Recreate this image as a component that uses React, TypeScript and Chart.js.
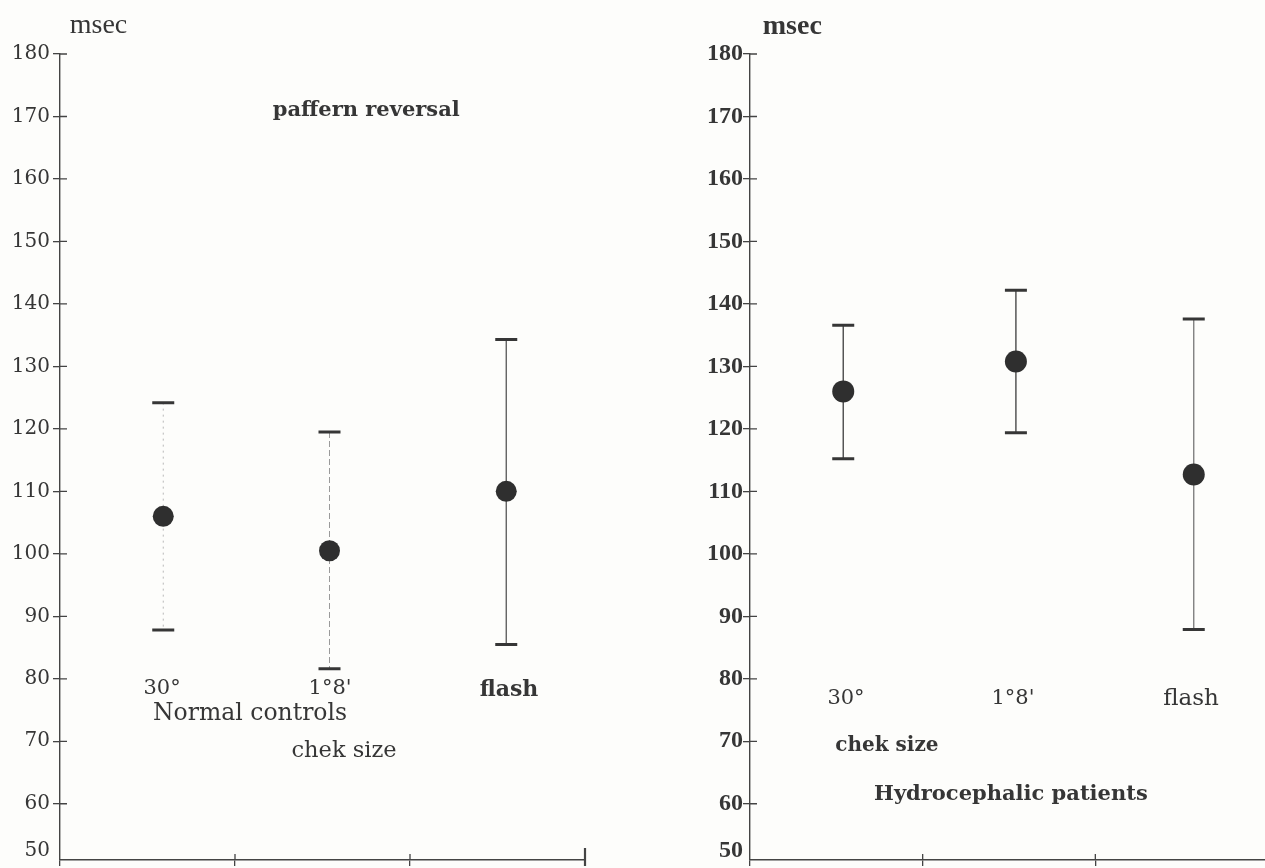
import React, { useEffect, useRef } from "react";
import { Chart, registerables } from "chart.js";

Chart.register(...registerables);

// ---------- data ----------
const categories = ["30°", "1°8'", "flash"];
const yTickLabels = [50, 60, 70, 80, 90, 100, 110, 120, 130, 140, 150, 160, 170, 180];
const yAxisStart = 51; // drawn axis starts a little below the 60 tick spacing; "50" sits on the corner
const yMax = 180;

// Normal controls (pattern reversal), msec
const controlsX = [0.59, 1.54, 2.55];
const controlsMean = [106, 100.5, 110];
const controlsUpper = [124.2, 119.5, 134.3];
const controlsLower = [87.8, 81.6, 85.5];

// Hydrocephalic patients, msec
const patientsX = [0.54, 1.54, 2.57];
const patientsMean = [126, 130.8, 112.7];
const patientsUpper = [136.6, 142.2, 137.6];
const patientsLower = [115.2, 119.4, 87.9];

const INK = "#363636";
const SERIF = '"DejaVu Serif", serif';
const TIMES = '"Liberation Serif", serif';

type Note = { text: string; x: number; y: number; font: string };
type BarStyle = { color: string; width: number; dash: number[] };

type Panel = {
  xs: number[];
  mean: number[];
  upper: number[];
  lower: number[];
  radius: number;
  barStyles: BarStyle[];
  notes: Note[];
  tickFont: { family: string; size: number; weight?: string };
  tickPadding: number;
  padRight: number;
  endTick: boolean;
};

const leftPanel: Panel = {
  xs: controlsX,
  mean: controlsMean,
  upper: controlsUpper,
  lower: controlsLower,
  radius: 10.5,
  barStyles: [
    { color: "#b8b8b8", width: 1, dash: [2, 4] },
    { color: "#9a9a9a", width: 1, dash: [6, 3] },
    { color: "#555", width: 1.3, dash: [] },
  ],
  notes: [
    { text: "msec", x: 0.22, y: 184.6, font: `28px ${TIMES}` },
    { text: "paffern reversal", x: 1.75, y: 171.0, font: `bold 21px ${SERIF}` },
    { text: categories[0], x: 0.583, y: 78.4, font: `21px ${SERIF}` },
    { text: categories[1], x: 1.543, y: 78.4, font: `21px ${SERIF}` },
    { text: categories[2], x: 2.566, y: 78.2, font: `bold 22px ${SERIF}` },
    { text: "Normal controls", x: 1.086, y: 74.4, font: `23.5px ${SERIF}` },
    { text: "chek size", x: 1.623, y: 68.45, font: `22.5px ${SERIF}` },
  ],
  tickFont: { family: SERIF, size: 20 },
  tickPadding: 3,
  padRight: 15,
  endTick: true,
};

const rightPanel: Panel = {
  xs: patientsX,
  mean: patientsMean,
  upper: patientsUpper,
  lower: patientsLower,
  radius: 11,
  barStyles: [
    { color: "#4a4a4a", width: 1.4, dash: [] },
    { color: "#4a4a4a", width: 1.4, dash: [] },
    { color: "#777", width: 1.3, dash: [] },
  ],
  notes: [
    { text: "msec", x: 0.245, y: 184.3, font: `bold 28px ${TIMES}` },
    { text: categories[0], x: 0.556, y: 76.8, font: `21px ${SERIF}` },
    { text: categories[1], x: 1.523, y: 76.8, font: `21px ${SERIF}` },
    { text: categories[2], x: 2.554, y: 76.8, font: `23px ${SERIF}` },
    { text: "chek size", x: 0.793, y: 69.25, font: `bold 20px ${SERIF}` },
    { text: "Hydrocephalic patients", x: 1.511, y: 61.4, font: `bold 21px ${SERIF}` },
  ],
  tickFont: { family: TIMES, size: 24, weight: "bold" },
  tickPadding: 0,
  padRight: 22,
  endTick: false,
};

function makeChart(canvas: HTMLCanvasElement, p: Panel) {
  const errorBars = {
    id: "errorBars",
    beforeDatasetsDraw(chart: any) {
      const { ctx, scales } = chart;
      const xs = scales.x;
      const ys = scales.y;
      ctx.save();
      p.xs.forEach((xv, i) => {
        const px = xs.getPixelForValue(xv);
        const top = ys.getPixelForValue(p.upper[i]);
        const bot = ys.getPixelForValue(p.lower[i]);
        const st = p.barStyles[i];
        ctx.strokeStyle = st.color;
        ctx.lineWidth = st.width;
        ctx.setLineDash(st.dash);
        ctx.beginPath();
        ctx.moveTo(px, top);
        ctx.lineTo(px, bot);
        ctx.stroke();
        ctx.setLineDash([]);
        ctx.strokeStyle = INK;
        ctx.lineWidth = 3;
        ctx.beginPath();
        ctx.moveTo(px - 11, top);
        ctx.lineTo(px + 11, top);
        ctx.moveTo(px - 11, bot);
        ctx.lineTo(px + 11, bot);
        ctx.stroke();
      });
      ctx.restore();
    },
    afterDraw(chart: any) {
      const { ctx, scales, chartArea } = chart;
      const xs = scales.x;
      const ys = scales.y;
      ctx.save();
      // inward halves of the tick marks
      ctx.strokeStyle = "#444";
      ctx.lineWidth = 1.3;
      ctx.beginPath();
      ys.ticks.forEach((t: any, i: number) => {
        if (i === 0) return;
        const py = ys.getPixelForValue(t.value);
        ctx.moveTo(chartArea.left, py);
        ctx.lineTo(chartArea.left + 7, py);
      });
      xs.ticks.forEach((t: any) => {
        if (t.value <= 0 || t.value >= xs.max) return;
        const px = xs.getPixelForValue(t.value);
        ctx.moveTo(px, chartArea.bottom);
        ctx.lineTo(px, chartArea.bottom - 6);
      });
      ctx.stroke();
      if (p.endTick) {
        const px = xs.getPixelForValue(xs.max);
        ctx.lineWidth = 2.2;
        ctx.beginPath();
        ctx.moveTo(px, chartArea.bottom + 6);
        ctx.lineTo(px, chartArea.bottom - 12);
        ctx.stroke();
      }
      // text notes
      ctx.fillStyle = INK;
      ctx.textAlign = "center";
      ctx.textBaseline = "middle";
      p.notes.forEach((n) => {
        ctx.font = n.font;
        ctx.fillText(n.text, xs.getPixelForValue(n.x), ys.getPixelForValue(n.y));
      });
      ctx.restore();
    },
  };

  return new Chart(canvas, {
    type: "scatter",
    data: {
      datasets: [
        {
          data: p.xs.map((x, i) => ({ x, y: p.mean[i] })),
          pointRadius: p.radius,
          pointHoverRadius: p.radius,
          backgroundColor: "#2f2f2f",
          borderColor: "#2f2f2f",
          borderWidth: 0,
        },
      ],
    },
    options: {
      animation: false,
      responsive: false,
      events: [],
      layout: { padding: { top: 54, right: p.padRight, left: 0, bottom: 0 } },
      plugins: { legend: { display: false }, tooltip: { enabled: false } },
      scales: {
        x: {
          type: "linear",
          min: 0,
          max: 3,
          ticks: { display: false, stepSize: 1 },
          grid: { drawOnChartArea: false, tickLength: 6, color: "#444", lineWidth: 1.3 },
          border: { color: "#444", width: 1.6 },
          afterFit: (s: any) => {
            s.height = 18;
          },
        },
        y: {
          type: "linear",
          min: yAxisStart,
          max: yMax,
          afterBuildTicks: (s: any) => {
            // the lowest label ("50") is printed just above the axis corner
            s.ticks = yTickLabels.map((v, i) => ({ value: i === 0 ? yAxisStart + 1.4 : v }));
          },
          ticks: {
            font: p.tickFont as any,
            color: INK,
            padding: p.tickPadding,
            callback: (_v: any, i: number) => String(yTickLabels[i]),
          },
          grid: {
            drawOnChartArea: false,
            tickLength: 7,
            color: (c: any) => (c.index === 0 ? "rgba(0,0,0,0)" : "#444"),
            lineWidth: 1.3,
          },
          border: { color: "#444", width: 1.4 },
          afterFit: (s: any) => {
            s.width = 60;
          },
        },
      },
    },
    plugins: [errorBars],
  } as any);
}

function PanelChart({ panel, left }: { panel: Panel; left: number }) {
  const ref = useRef<HTMLCanvasElement | null>(null);
  useEffect(() => {
    if (!ref.current) return;
    const c = makeChart(ref.current, panel);
    return () => c.destroy();
  }, [panel]);
  return (
    <canvas
      ref={ref}
      width={600}
      height={878}
      style={{ position: "absolute", left, top: 0, width: 600, height: 878 }}
    />
  );
}

export default function App() {
  return (
    <div
      style={{
        position: "fixed",
        left: 0,
        top: 0,
        width: 1265,
        height: 868,
        overflow: "hidden",
        background: "#fdfdfb",
      }}
    >
      <PanelChart panel={leftPanel} left={0} />
      <PanelChart panel={rightPanel} left={690} />
    </div>
  );
}
